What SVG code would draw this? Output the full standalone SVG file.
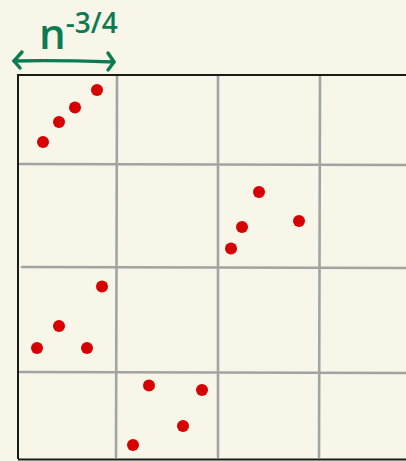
<svg xmlns="http://www.w3.org/2000/svg" width="406" height="461" viewBox="0 0 406 461">
<defs>
<style>
.grid{stroke:#a3a3a3;stroke-width:2.6;fill:none;stroke-linecap:round}
.dot{fill:#d60000}
.ann{stroke:#0c7a52;stroke-width:3.4;fill:none;stroke-linecap:round;stroke-linejoin:round}
.lbl{fill:#0c7a52;font-family:"Open Sans","Liberation Sans",sans-serif;font-weight:600}
</style>
</defs>
<rect x="0" y="0" width="406" height="461" fill="#f8f6e9"/>
<g id="grid">
<line class="grid" x1="117" y1="76" x2="116" y2="457"/>
<line class="grid" x1="218" y1="76" x2="218" y2="457"/>
<line class="grid" x1="320" y1="76" x2="319" y2="457"/>
<line class="grid" x1="20" y1="164" x2="406" y2="165"/>
<line class="grid" x1="22" y1="267" x2="406" y2="268"/>
<line class="grid" x1="20" y1="372" x2="406" y2="373"/>
</g>
<g id="border">
<path d="M18,459 L18,75 L410,75" fill="none" stroke="#1a1a1a" stroke-width="2"/>
<line x1="18" y1="459.5" x2="406" y2="459.5" stroke="#1a1a1a" stroke-width="2"/>
</g>
<g id="cell-1">
<circle class="dot" cx="97" cy="90" r="6"/>
<circle class="dot" cx="75" cy="107.5" r="6"/>
<circle class="dot" cx="59" cy="122" r="6"/>
<circle class="dot" cx="43" cy="142" r="6"/>
</g>
<g id="cell-2">
<circle class="dot" cx="259" cy="192" r="6"/>
<circle class="dot" cx="242" cy="227" r="6"/>
<circle class="dot" cx="231" cy="248.5" r="6"/>
<circle class="dot" cx="299" cy="221" r="6"/>
</g>
<g id="cell-3">
<circle class="dot" cx="102" cy="286.5" r="6"/>
<circle class="dot" cx="59" cy="326" r="6"/>
<circle class="dot" cx="37" cy="348" r="6"/>
<circle class="dot" cx="87" cy="348" r="6"/>
</g>
<g id="cell-4">
<circle class="dot" cx="149" cy="385.5" r="6"/>
<circle class="dot" cx="202" cy="390" r="6"/>
<circle class="dot" cx="183" cy="426" r="6"/>
<circle class="dot" cx="133" cy="445" r="6"/>
</g>
<g id="connectors">
<path class="ann" d="M14,61 C45,60 85,61 114,62"/>
<path class="ann" d="M22,52 L14,61 L20,68"/>
<path class="ann" d="M108,53 L114,62 L108,70"/>
</g>
<g id="label">
<text class="lbl" x="39" y="49" font-size="42">n<tspan dy="-16" font-size="28">-3/4</tspan></text>
</g>
</svg>
